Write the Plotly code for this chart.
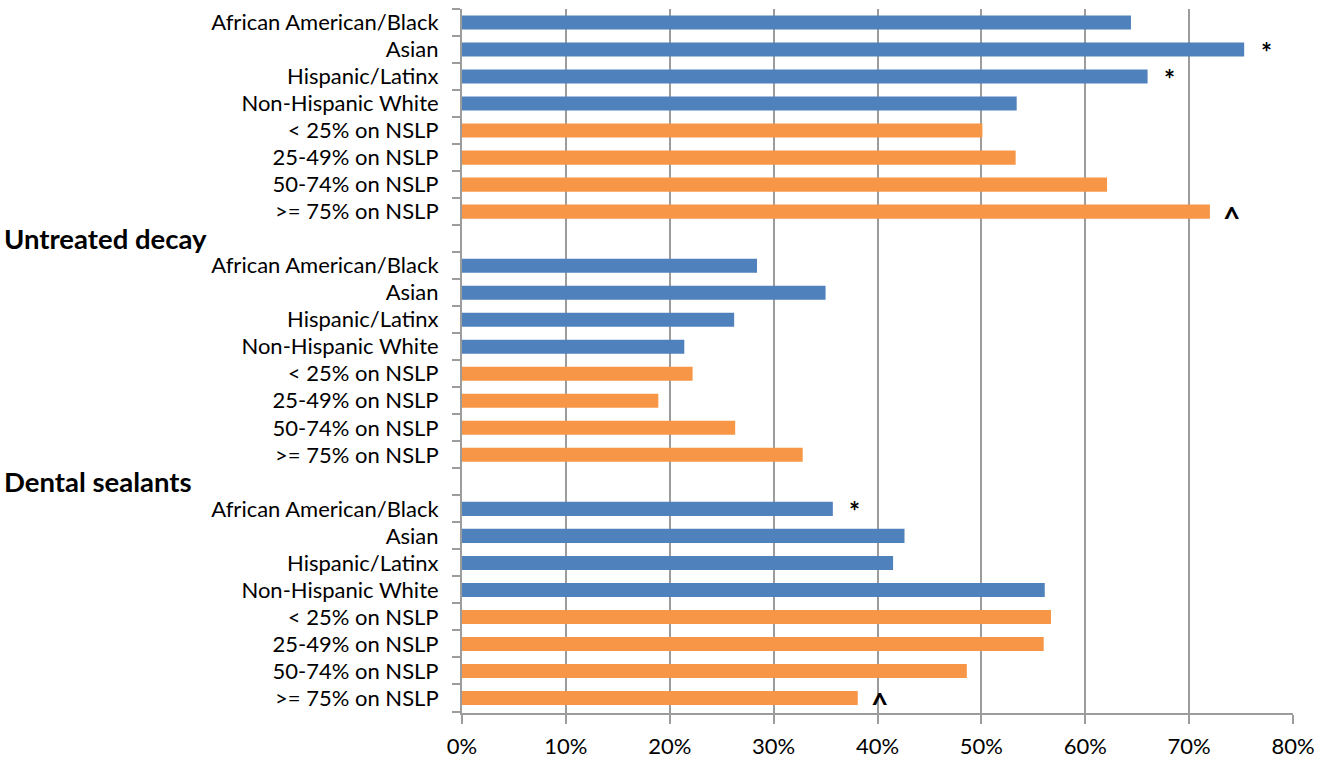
import plotly.graph_objects as go

# ---- data ----
subgroups = ["African American/Black", "Asian", "Hispanic/Latinx", "Non-Hispanic White",
             "< 25% on NSLP", "25-49% on NSLP", "50-74% on NSLP", ">= 75% on NSLP"]
subgroup_type = ["race", "race", "race", "race", "nslp", "nslp", "nslp", "nslp"]

section_headers = ["", "Untreated decay", "Dental sealants"]

values_section1 = [64.4, 75.3, 66.0, 53.4, 50.1, 53.3, 62.1, 72.0]
values_section2 = [28.4, 35.0, 26.2, 21.4, 22.2, 18.9, 26.3, 32.8]
values_section3 = [35.7, 42.6, 41.5, 56.1, 56.7, 56.0, 48.6, 38.1]

flags_section1 = ["", "*", "*", "", "", "", "", "^"]
flags_section2 = ["", "", "", "", "", "", "", ""]
flags_section3 = ["*", "", "", "", "", "", "", "^"]

x_ticks = [0, 10, 20, 30, 40, 50, 60, 70, 80]
x_tick_labels = ["0%", "10%", "20%", "30%", "40%", "50%", "60%", "70%", "80%"]

# ---- build rows ----
sections = [
    (section_headers[0], values_section1, flags_section1),
    (section_headers[1], values_section2, flags_section2),
    (section_headers[2], values_section3, flags_section3),
]

colors = {"race": "#4F81BD", "nslp": "#F79646"}

cat_ids, cat_labels = [], []
bar_y, bar_x, bar_c = [], [], []
flag_items = []
header_items = []

for si, (hdr, vals, flags) in enumerate(sections):
    if si > 0:
        hid = f"hdr{si}"
        cat_ids.append(hid)
        cat_labels.append("")
        header_items.append((hid, hdr))
    for sg, st, v, fl in zip(subgroups, subgroup_type, vals, flags):
        cid = f"s{si}_{sg}"
        cat_ids.append(cid)
        cat_labels.append(sg)
        bar_y.append(cid)
        bar_x.append(v)
        bar_c.append(colors[st])
        if fl:
            flag_items.append((cid, v, fl))

font_family = "Lato, 'Noto Sans', sans-serif"
axis_color = "#9C9C9C"

fig = go.Figure()
fig.add_trace(go.Bar(
    x=bar_x, y=bar_y, orientation="h",
    marker=dict(color=bar_c, line=dict(width=0)),
    hoverinfo="x+y", showlegend=False,
))

annotations = []
for hid, txt in header_items:
    annotations.append(dict(
        x=0, xref="paper", xanchor="left", xshift=-460,
        y=hid, yref="y", yanchor="middle",
        text=f"<b>{txt}</b>", showarrow=False,
        font=dict(family=font_family, size=27.5, color="#000000"),
    ))
for cid, v, fl in flag_items:
    annotations.append(dict(
        x=v, xref="x", xanchor="center", xshift=22,
        y=cid, yref="y", yanchor="middle", yshift=(-2 if fl == "*" else -5),
        text=f"<b>{fl}</b>", showarrow=False,
        font=dict(family=font_family, size=(26 if fl == "*" else 30), color="#000000"),
    ))

fig.update_layout(
    width=1329, height=759,
    margin=dict(l=462, r=36, t=9, b=46, pad=0, autoexpand=False),
    paper_bgcolor="white", plot_bgcolor="white",
    bargap=0.48,
    font=dict(family=font_family, color="#000000"),
    annotations=annotations,
    xaxis=dict(
        range=[0, 80], tickmode="array", tickvals=x_ticks, ticktext=x_tick_labels,
        showgrid=True, gridcolor=axis_color, gridwidth=2,
        showline=True, linecolor=axis_color, linewidth=2,
        ticks="outside", ticklen=9, tickcolor=axis_color, tickwidth=2,
        zeroline=False, ticklabelstandoff=4, automargin=False,
        tickfont=dict(family=font_family, size=22, color="#000000"),
        fixedrange=True,
    ),
    yaxis=dict(
        type="category", categoryorder="array", categoryarray=cat_ids,
        tickmode="array", tickvals=cat_ids, ticktext=cat_labels,
        autorange="reversed", tickson="boundaries",
        showgrid=False, showline=True, linecolor=axis_color, linewidth=2,
        ticks="outside", ticklen=8, tickcolor=axis_color, tickwidth=2,
        ticklabelstandoff=17, automargin=False,
        tickfont=dict(family=font_family, size=22, color="#000000"),
        fixedrange=True,
    ),
)

fig.write_html("out.html", config={"displayModeBar": False},
               post_script="document.body.style.margin='0px';")
